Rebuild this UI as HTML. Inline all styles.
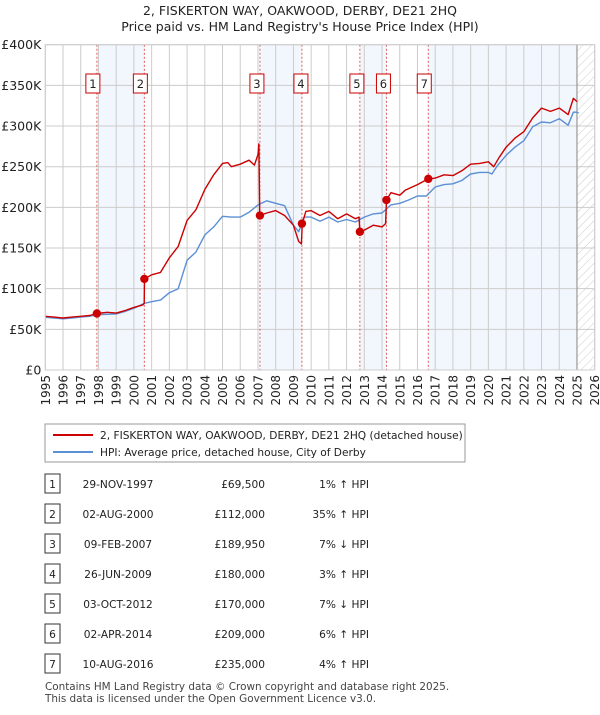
<!DOCTYPE html>
<html><head><meta charset="utf-8"><style>
body{margin:0;background:#fff;font-family:"Liberation Sans","DejaVu Sans",sans-serif;}
svg text{font-family:"DejaVu Sans","Liberation Sans",sans-serif;}
</style></head><body>
<svg id="chart" width="600" height="710" viewBox="0 0 600 710" xmlns="http://www.w3.org/2000/svg">
<defs><pattern id="hatch" width="6" height="6" patternUnits="userSpaceOnUse" patternTransform="rotate(45)"><line x1="0" y1="0" x2="0" y2="6" stroke="#ccc" stroke-width="1"/></pattern></defs>
<text x="300" y="15" text-anchor="middle" font-size="12.5" fill="#222">2, FISKERTON WAY, OAKWOOD, DERBY, DE21 2HQ</text>
<text x="300" y="31" text-anchor="middle" font-size="12.5" fill="#222">Price paid vs. HM Land Registry's House Price Index (HPI)</text>
<g id="bg"></g><g id="grid"></g><g id="lines"></g><g id="marks"></g><g id="axes"></g>
</svg>
<script>
const years=[1995,1996,1997,1998,1999,2000,2001,2002,2003,2004,2005,2006,2007,2008,2009,2010,2011,2012,2013,2014,2015,2016,2017,2018,2019,2020,2021,2022,2023,2024,2025,2026];
const yTicks=[0,50000,100000,150000,200000,250000,300000,350000,400000];
const yTickLabels=["£0","£50K","£100K","£150K","£200K","£250K","£300K","£350K","£400K"];
const hpiDates=[1995,1995.5,1996,1996.5,1997,1997.5,1997.9,1998.5,1999,1999.5,2000,2000.6,2001,2001.5,2002,2002.5,2003,2003.5,2004,2004.5,2005,2005.5,2006,2006.5,2007,2007.5,2008,2008.5,2009,2009.3,2009.6,2010,2010.5,2011,2011.5,2012,2012.5,2013,2013.5,2014,2014.5,2015,2015.5,2016,2016.5,2017,2017.5,2018,2018.5,2019,2019.5,2020,2020.2,2020.5,2021,2021.5,2022,2022.5,2023,2023.5,2024,2024.5,2024.8,2025,2025.1];
const hpiValues=[64800,64000,63000,64000,65000,66000,68000,68500,69000,72000,76000,82000,84000,86000,95000,100000,135000,145000,166000,176000,189000,188000,188000,194000,203000,208000,205000,202000,178000,170000,188000,188000,183000,188000,182000,185000,182000,188000,192000,193000,203000,205000,209000,214000,214000,225000,228000,229000,233000,241000,243000,243000,241000,251000,264000,274000,282000,299000,305000,304000,309000,301000,317000,317000,316000];
const priceDates=[1995,1995.5,1996,1996.5,1997,1997.5,1997.9,1998.5,1999,1999.5,2000,2000.5,2000.58,2000.6,2001,2001.5,2002,2002.5,2003,2003.5,2004,2004.5,2005,2005.3,2005.5,2006,2006.5,2006.8,2007.0,2007.05,2007.1,2007.5,2008,2008.5,2009,2009.3,2009.45,2009.5,2009.7,2010,2010.5,2011,2011.5,2012,2012.5,2012.7,2012.75,2013,2013.5,2014,2014.2,2014.25,2014.5,2015,2015.3,2015.7,2016,2016.6,2017,2017.5,2018,2018.5,2019,2019.5,2020,2020.3,2020.6,2021,2021.5,2022,2022.5,2023,2023.5,2024,2024.5,2024.8,2025];
const priceValues=[66000,65000,64000,65000,66000,67000,69500,71000,70000,73000,77000,80000,82000,112000,117000,120000,138000,152000,184000,197000,222000,240000,254000,255000,250000,253000,258000,252000,265000,278000,189950,193000,196000,190000,178000,158000,155000,180000,195000,196000,190000,195000,186000,192000,186000,188000,170000,172000,178000,176000,180000,209000,218000,215000,221000,225000,228000,235000,236000,240000,239000,245000,253000,254000,256000,250000,261000,274000,285000,293000,310000,322000,318000,322000,314000,334000,330000];
const saleLabels=["1","2","3","4","5","6","7"];
const saleDates=[1997.91,2000.59,2007.11,2009.48,2012.75,2014.25,2016.61];
const salePrices=[69500,112000,189950,180000,170000,209000,235000];
const saleDateText=["29-NOV-1997","02-AUG-2000","09-FEB-2007","26-JUN-2009","03-OCT-2012","02-APR-2014","10-AUG-2016"];
const salePriceText=["£69,500","£112,000","£189,950","£180,000","£170,000","£209,000","£235,000"];
const saleHpiText=["1% ↑ HPI","35% ↑ HPI","7% ↓ HPI","3% ↑ HPI","7% ↓ HPI","6% ↑ HPI","4% ↑ HPI"];

const NS="http://www.w3.org/2000/svg";
const X0=45.3,X1=594.7,Y0=370,Y1=44.7;
const x=d=>X0+(d-1995)/(2026-1995)*(X1-X0);
const y=v=>Y0-v/400000*(Y0-Y1);
function mk(tag,attrs,parent){const e=document.createElementNS(NS,tag);for(const k in attrs)e.setAttribute(k,attrs[k]);parent.appendChild(e);return e;}
const bg=document.getElementById('bg'),grid=document.getElementById('grid'),lines=document.getElementById('lines'),marks=document.getElementById('marks'),axes=document.getElementById('axes');
const shadePairs=[[0,1],[2,3],[4,5]];
shadePairs.forEach((p,i)=>{const r=mk('rect',{x:x(saleDates[p[0]]),y:Y1,width:x(saleDates[p[1]])-x(saleDates[p[0]]),height:Y0-Y1,fill:'#f2f6fd'},bg);

});
const s7=mk('rect',{x:x(saleDates[6]),y:Y1,width:x(2025)-x(saleDates[6]),height:Y0-Y1,fill:'#f2f6fd'},bg);


const ht=mk('rect',{x:x(2025),y:Y1,width:X1-x(2025),height:Y0-Y1,fill:'url(#hatch)'},bg);


years.forEach(yr=>{const l=mk('line',{x1:x(yr),x2:x(yr),y1:Y1,y2:Y0,stroke:'#ccc','stroke-width':1},grid);


const t=mk('text',{x:0,y:0,transform:`translate(${x(yr)+4.5},${Y0+5}) rotate(-90)`,'text-anchor':'end','font-size':12,fill:'#222'},axes);t.textContent=yr;

});
yTicks.forEach((v,i)=>{const l=mk('line',{x1:X0,x2:X1,y1:y(v),y2:y(v),stroke:'#ccc','stroke-width':1},grid);


const t=mk('text',{x:X0-4,y:y(v)+4.5,'text-anchor':'end','font-size':12.5,fill:'#222'},axes);t.textContent=yTickLabels[i];

});
const nowl=mk('line',{x1:x(2025),x2:x(2025),y1:Y1,y2:Y0,stroke:'#999','stroke-width':1.2},grid);


const boxOff=[-4,-4,-3,-1,-3,-3,-4];
saleDates.forEach((d,i)=>{const l=mk('line',{x1:x(d),x2:x(d),y1:Y1,y2:Y0,stroke:'#e06060','stroke-width':1,'stroke-dasharray':'2,2'},grid);


const g=mk('g',{transform:`translate(${boxOff[i]},0)`},marks);


mk('rect',{x:x(d)-7,y:74,width:14,height:19,fill:'#fff',stroke:'#c00','stroke-width':1},g);
const t=mk('text',{x:x(d),y:88,'text-anchor':'middle','font-size':11.5,fill:'#222'},g);t.textContent=saleLabels[i];});
function path(ds,vs,col,name){const d=ds.map((dd,i)=>(i?'L':'M')+x(dd).toFixed(1)+','+y(vs[i]).toFixed(1)).join('');const p=mk('path',{d:d,fill:'none',stroke:col,'stroke-width':1.4,'stroke-linejoin':'round'},lines);

}
path(hpiDates,hpiValues,'#5b8fd6','hpi-line');
path(priceDates,priceValues,'#cc0000','price-line');
saleDates.forEach((d,i)=>{const c=mk('circle',{cx:x(d),cy:y(salePrices[i]),r:4.2,fill:'#cc0000'},lines);

});
const fr=mk('rect',{x:X0,y:Y1,width:X1-X0,height:Y0-Y1,fill:'none',stroke:'#ccc'},axes);


const svg=document.getElementById('chart');
const lg=mk('g',{},svg);


mk('rect',{x:45,y:424,width:420,height:38,fill:'#fff',stroke:'#999'},lg);
mk('line',{x1:53,x2:93,y1:435,y2:435,stroke:'#cc0000','stroke-width':2},lg);
mk('line',{x1:53,x2:93,y1:452,y2:452,stroke:'#5b8fd6','stroke-width':2},lg);
let t=mk('text',{x:100,y:439,'font-size':10.6,fill:'#222'},lg);t.textContent='2, FISKERTON WAY, OAKWOOD, DERBY, DE21 2HQ (detached house)';


t=mk('text',{x:100,y:456,'font-size':10.6,fill:'#222'},lg);t.textContent='HPI: Average price, detached house, City of Derby';


saleLabels.forEach((s,i)=>{const ry=484+i*30;const g=mk('g',{},svg);


mk('rect',{x:45,y:ry-10,width:15,height:19,fill:'#fff',stroke:'#333'},g);
let a=mk('text',{x:52.5,y:ry+4,'text-anchor':'middle','font-size':10.6,fill:'#222'},g);a.textContent=s;
a=mk('text',{x:118,y:ry+4,'text-anchor':'middle','font-size':10.6,fill:'#222'},g);a.textContent=saleDateText[i];
a=mk('text',{x:265,y:ry+4,'text-anchor':'end','font-size':10.6,fill:'#222'},g);a.textContent=salePriceText[i];
a=mk('text',{x:369,y:ry+4,'text-anchor':'end','font-size':10.6,fill:'#222'},g);a.textContent=saleHpiText[i];});
t=mk('text',{x:45,y:690,'font-size':10.4,fill:'#444'},svg);t.textContent='Contains HM Land Registry data © Crown copyright and database right 2025.';


t=mk('text',{x:45,y:702,'font-size':10.4,fill:'#444'},svg);t.textContent='This data is licensed under the Open Government Licence v3.0.';


</script>
</body></html>
